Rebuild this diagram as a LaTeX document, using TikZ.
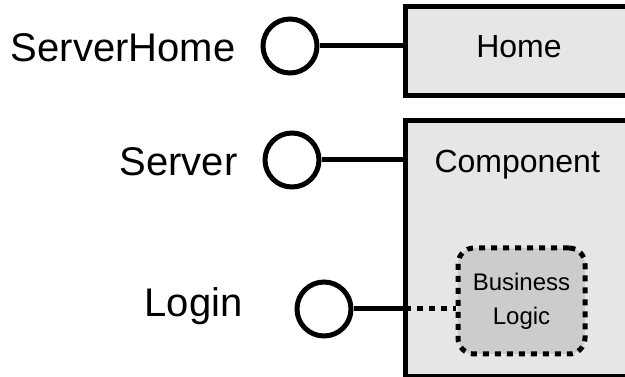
\documentclass[tikz,border=0pt]{standalone}
\usepackage{fontspec}
\setmainfont{Liberation Sans}
\begin{document}
\begin{tikzpicture}[x=1pt,y=-1pt,
  line width=5pt,
  lbl/.style={anchor=base east,inner sep=0pt,font=\fontsize{40}{48}\selectfont},
  port/.style={circle,draw,fill=white,minimum size=54pt,inner sep=0pt},
  compbox/.style={fill=boxgray,anchor=north west,inner sep=0pt},
  boxtext/.style={inner sep=0pt,font=\fontsize{32}{38}\selectfont},
  logicbox/.style={draw,fill=logicgray,rounded corners=16pt,dash pattern=on 6pt off 6pt,
    minimum width=127pt,minimum height=106pt,inner sep=0pt,align=center,
    font=\fontsize{24}{34}\selectfont}]
\definecolor{boxgray}{HTML}{E6E6E6}
\definecolor{logicgray}{HTML}{CCCCCC}
\useasboundingbox (0,0) rectangle (625,377);
% boxes (open on the right: they run past the picture's edge)
\node[compbox,minimum width=220pt,minimum height=84pt] (home) at (405,7) {};
\node[compbox,minimum width=220pt,minimum height=251pt] (comp) at (405,121) {};
\draw (home.north east) -- (home.north west) -- (home.south west) -- (home.south east);
\draw (comp.north east) -- (comp.north west) -- (comp.south west) -- (comp.south east);
\node[boxtext,anchor=base] (hometxt) at (519,58) {Home};
\node[boxtext,anchor=base west] (comptxt) at (432,173) {Component};
% ports
\node[port] (p1) at (290,46) {};
\node[port] (p2) at (292,160) {};
\node[port] (p3) at (324,309) {};
\node[lbl] (l1) at (238,62) {ServerHome};
\node[lbl] (l2) at (240,176) {Server};
\node[lbl] (l3) at (245,317) {Login};
\coordinate (e1) at (405,46);
\coordinate (e2) at (405,160);
\coordinate (e3) at (405,309);
\draw (p1.east) -- (e1);
\draw (p2.east) -- (e2);
\draw (p3.east) -- (e3);
% business logic
\node[logicbox] (bl) at (521.5,301) {Business\\Logic};
\draw[dash pattern=on 6pt off 6pt] (e3) -- (bl.west |- e3);
\end{tikzpicture}
\end{document}
